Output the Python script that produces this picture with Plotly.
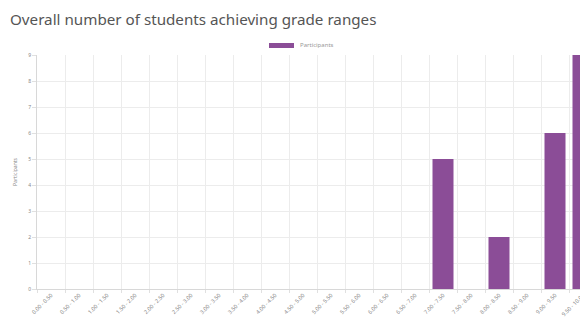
import plotly.graph_objects as go

categories = ["0.00 - 0.50", "0.50 - 1.00", "1.00 - 1.50", "1.50 - 2.00",
              "2.00 - 2.50", "2.50 - 3.00", "3.00 - 3.50", "3.50 - 4.00",
              "4.00 - 4.50", "4.50 - 5.00", "5.00 - 5.50", "5.50 - 6.00",
              "6.00 - 6.50", "6.50 - 7.00", "7.00 - 7.50", "7.50 - 8.00",
              "8.00 - 8.50", "8.50 - 9.00", "9.00 - 9.50", "9.50 - 10.00"]
participants = [0, 0, 0, 0, 0, 0, 0, 0, 0, 0, 0, 0, 0, 0, 5, 0, 2, 0, 6, 9]
y_ticks = [0, 1, 2, 3, 4, 5, 6, 7, 8, 9]
series_name = "Participants"
bar_color = "#8b4d97"

# page body has an 8px margin, so figure coords = viewport coords - 8
OFF = 8
W, H = 588 - OFF, 320 - OFF
L, R, T, B = 37 - OFF, 0, 55 - OFF, 31
pw = W - L - R
ph = H - T - B
cat_px = 28.0

def px_x(p):
    return (p - OFF - L) / pw

def px_y(p):
    return (H - B - (p - OFF)) / ph

fig = go.Figure()
fig.add_trace(go.Bar(
    x=categories, y=participants, name=series_name,
    marker=dict(color=bar_color, line=dict(width=0)),
    showlegend=False,
))

# legend drawn as swatch + text
fig.add_shape(type="rect", xref="paper", yref="paper",
              x0=px_x(269), x1=px_x(294), y0=px_y(48), y1=px_y(43),
              fillcolor=bar_color, line=dict(width=0), layer="above")
fig.add_annotation(text=series_name, xref="paper", yref="paper",
                   x=px_x(298), xanchor="left", y=px_y(45.5), yanchor="middle",
                   showarrow=False, font=dict(size=6, color="#999"))

fig.update_layout(
    width=W, height=H,
    margin=dict(l=L, r=R, t=T, b=B, autoexpand=False),
    paper_bgcolor="white", plot_bgcolor="white",
    font=dict(family="Noto Sans, sans-serif", color="#777"),
    title=dict(text="Overall number of students achieving grade ranges",
               x=(10 - OFF) / W, xanchor="left", y=1 - (20 - OFF) / H, yanchor="middle",
               font=dict(size=15.2, color="#555", family="Noto Sans, sans-serif")),
    bargap=0.25,
    showlegend=False,
    xaxis=dict(
        type="category", range=[-0.5, -0.5 + pw / cat_px], tickson="boundaries",
        automargin=False,
        showgrid=True, gridcolor="#ececec", gridwidth=1,
        tickangle=-45, tickfont=dict(size=5.5, color="#888"),
        ticks="outside", ticklen=3, tickcolor="#e0e0e0",
        showline=True, linecolor="#d8d8d8", linewidth=1,
        zeroline=False,
    ),
    yaxis=dict(
        range=[0, 9], tickvals=y_ticks, showgrid=True, gridcolor="#ececec",
        automargin=False,
        gridwidth=1, tickfont=dict(size=5, color="#888"),
        ticks="outside", ticklen=4, tickcolor="#e0e0e0",
        showline=True, linecolor="#d8d8d8", linewidth=1,
        zeroline=False,
        title=dict(text="Participants", font=dict(size=5, color="#888"), standoff=10),
    ),
)

fig.write_html("out.html")
